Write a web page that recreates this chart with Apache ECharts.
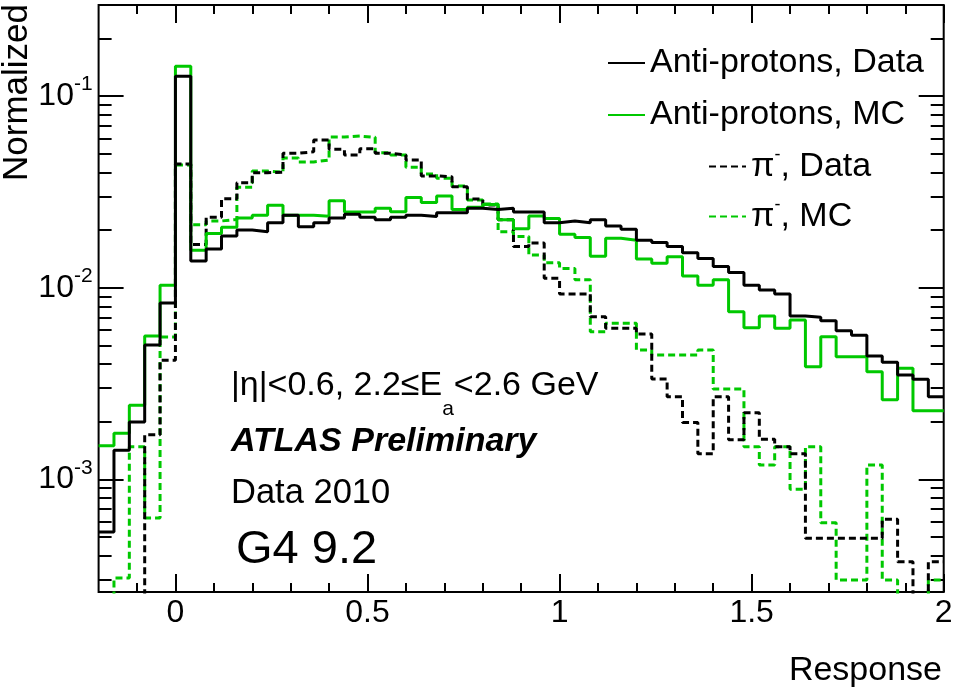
<!DOCTYPE html>
<html>
<head>
<meta charset="utf-8">
<title>Response</title>
<script src="https://cdn.jsdelivr.net/npm/echarts@6.0.0/dist/echarts.min.js"></script>
<style>
html, body { margin: 0; padding: 0; background: #ffffff; }
#chart { width: 953px; height: 690px; }
</style>
</head>
<body>
<div id="chart"></div>
<script>
// ---------------- data ----------------
const binLow = -0.2;
const binWidth = 0.04;
const BELOW = 1e-4; // empty bins: below the visible axis range

const antiProtonData = [
  5.32e-4, 1.42e-3, 1.99e-3, 5.02e-3, 8.32e-3,
  0.127,   1.38e-2, 1.59e-2, 1.86e-2, 2.00e-2,
  1.96e-2, 2.18e-2, 2.39e-2, 2.08e-2, 2.18e-2,
  2.31e-2, 2.42e-2, 2.33e-2, 2.26e-2, 2.33e-2,
  2.39e-2, 2.35e-2, 2.46e-2, 2.46e-2, 2.60e-2,
  2.56e-2, 2.60e-2, 2.48e-2, 2.48e-2, 2.18e-2,
  2.23e-2, 2.18e-2, 2.26e-2, 2.10e-2, 2.02e-2,
  1.77e-2, 1.72e-2, 1.64e-2, 1.52e-2, 1.42e-2,
  1.29e-2, 1.20e-2, 1.03e-2, 9.73e-3, 9.27e-3,
  7.12e-3, 7.01e-3, 6.73e-3, 5.97e-3, 5.65e-3,
  4.40e-3, 4.08e-3, 3.50e-3, 3.33e-3, 2.70e-3
];
const antiProtonMC = [
  1.50e-3, 1.74e-3, 2.44e-3, 5.60e-3, 1.03e-2,
  0.143,   1.57e-2, 1.92e-2, 2.07e-2, 2.31e-2,
  2.39e-2, 2.69e-2, 2.39e-2, 2.39e-2, 2.36e-2,
  2.84e-2, 2.48e-2, 2.48e-2, 2.60e-2, 2.49e-2,
  2.96e-2, 2.78e-2, 3.01e-2, 2.56e-2, 2.63e-2,
  2.72e-2, 2.26e-2, 2.03e-2, 2.37e-2, 2.30e-2,
  1.90e-2, 1.83e-2, 1.46e-2, 1.81e-2, 1.77e-2,
  1.41e-2, 1.34e-2, 1.45e-2, 1.15e-2, 1.03e-2,
  1.10e-2, 7.49e-3, 6.18e-3, 7.12e-3, 6.14e-3,
  6.78e-3, 3.87e-3, 5.55e-3, 4.37e-3, 4.37e-3,
  3.65e-3, 2.60e-3, 3.80e-3, 2.28e-3, 2.28e-3
];
const pionData = [
  BELOW,   BELOW,   BELOW,   1.71e-3, 4.19e-3,
  4.42e-2, 1.68e-2, 2.33e-2, 2.91e-2, 3.53e-2,
  3.98e-2, 4.01e-2, 5.03e-2, 5.12e-2, 5.89e-2,
  5.27e-2, 4.92e-2, 5.31e-2, 5.03e-2, 4.92e-2,
  4.64e-2, 3.83e-2, 3.79e-2, 3.36e-2, 2.90e-2,
  2.70e-2, 2.26e-2, 1.64e-2, 1.71e-2, 1.12e-2,
  9.27e-3, 9.27e-3, 7.06e-3, 6.14e-3, 6.14e-3,
  5.73e-3, 3.34e-3, 2.70e-3, 1.98e-3, 1.36e-3,
  2.70e-3, 1.61e-3, 2.23e-3, 1.62e-3, 1.48e-3,
  1.36e-3, 4.93e-4, 4.93e-4, 4.93e-4, 4.93e-4,
  4.93e-4, 6.19e-4, 3.72e-4, BELOW,   3.72e-4
];
const pionMC = [
  BELOW,   3.06e-4, 1.48e-3, 6.29e-4, 5.53e-3,
  4.37e-2, 2.13e-2, 2.23e-2, 2.27e-2, 3.34e-2,
  4.06e-2, 4.01e-2, 4.75e-2, 4.53e-2, 4.64e-2,
  6.11e-2, 6.18e-2, 6.09e-2, 5.06e-2, 4.92e-2,
  4.25e-2, 3.92e-2, 3.72e-2, 3.39e-2, 2.87e-2,
  2.73e-2, 1.96e-2, 1.85e-2, 1.48e-2, 1.35e-2,
  1.26e-2, 1.10e-2, 5.89e-3, 6.52e-3, 6.52e-3,
  4.73e-3, 4.46e-3, 4.46e-3, 4.46e-3, 4.73e-3,
  2.96e-3, 2.96e-3, 1.48e-3, 1.19e-3, 1.48e-3,
  8.88e-4, 1.48e-3, 5.94e-4, 2.99e-4, 2.99e-4,
  1.19e-3, 2.99e-4, BELOW,   BELOW,   2.99e-4
];

const xMin = -0.2, xMax = 2;
const yMin = 2.586e-4, yMax = 0.2985;
const xTickLabels = [0, 0.5, 1, 1.5, 2];
const xMinorTicks = [-0.1, 0.1, 0.2, 0.3, 0.4, 0.6, 0.7, 0.8, 0.9, 1.1, 1.2, 1.3, 1.4, 1.6, 1.7, 1.8, 1.9];
const yMinorTicks = [3e-4, 4e-4, 5e-4, 6e-4, 7e-4, 8e-4, 9e-4,
                     2e-3, 3e-3, 4e-3, 5e-3, 6e-3, 7e-3, 8e-3, 9e-3,
                     2e-2, 3e-2, 4e-2, 5e-2, 6e-2, 7e-2, 8e-2, 9e-2, 2e-1];

const legendTop = ['Anti-protons, Data', 'Anti-protons, MC'];
const legendBottom = ['π-, Data', 'π-, MC'];

// ---------------- build ----------------
const FONT = '"Liberation Sans", Arial, Helvetica, sans-serif';
const GREEN = '#00c800';

function histo(values) {
  const pts = values.map((v, i) => [+(binLow + i * binWidth).toFixed(2), v]);
  pts.push([+(binLow + values.length * binWidth).toFixed(2), values[values.length - 1]]);
  return pts;
}

const tickLine = { color: '#000', width: 2 };

function xAxisDef(position, ticks, len, withLabels) {
  return {
    type: 'value', position: position, min: xMin, max: xMax,
    axisLine: { show: false, onZero: false }, splitLine: { show: false },
    axisTick: { show: true, inside: true, length: len, customValues: ticks, lineStyle: tickLine },
    axisLabel: withLabels ? {
      show: true, customValues: xTickLabels, margin: 5, fontSize: 32, fontFamily: FONT, color: '#000',
      formatter: v => String(v)
    } : { show: false }
  };
}

function yLogAxis(position, withLabels) {
  return {
    type: 'log', logBase: 10, position: position, min: yMin, max: yMax,
    axisLine: { show: false, onZero: false }, splitLine: { show: false },
    axisTick: { show: true, inside: true, length: 25, lineStyle: tickLine },
    axisLabel: withLabels ? {
      show: true, margin: 6, showMinLabel: false, showMaxLabel: false,
      fontFamily: FONT, color: '#000', fontSize: 32,
      formatter: function (v) {
        const e = Math.log10(v);
        const r = Math.round(e);
        if (Math.abs(e - r) > 1e-6) return '';
        return '{b|10}{s|' + r + '}';
      },
      rich: {
        b: { fontSize: 32, fontFamily: FONT, color: '#000', lineHeight: 44 },
        s: { fontSize: 21, fontFamily: FONT, color: '#000', lineHeight: 21, verticalAlign: 'top' }
      }
    } : { show: false }
  };
}

function yMinorAxis(position) {
  return {
    type: 'value', position: position, min: Math.log10(yMin), max: Math.log10(yMax),
    axisLine: { show: false, onZero: false }, splitLine: { show: false },
    axisTick: { show: true, inside: true, length: 13, customValues: yMinorTicks.map(v => Math.log10(v)), lineStyle: tickLine },
    axisLabel: { show: false }
  };
}

function lineSeries(name, values, color, dashed, z) {
  return {
    name: name, type: 'line', step: 'end', data: histo(values),
    xAxisIndex: 0, yAxisIndex: 0,
    symbol: 'none', showSymbol: false, clip: true, z: z,
    lineStyle: { color: color, width: 3, type: dashed ? [7, 4] : 'solid' },
    itemStyle: { color: color },
    emphasis: { disabled: true }
  };
}

const legendText = { fontSize: 34, fontFamily: FONT, color: '#000', lineHeight: 40 };

const option = {
  animation: false,
  backgroundColor: '#ffffff',
  grid: {
    left: 98.6, right: 9.3, top: 5, bottom: 98,
    show: true, borderColor: '#000', borderWidth: 2, backgroundColor: 'transparent',
    containLabel: false, outerBoundsMode: 'none'
  },
  xAxis: [
    xAxisDef('bottom', xTickLabels, 18, true),
    xAxisDef('bottom', xMinorTicks, 9, false),
    xAxisDef('top', xTickLabels, 18, false),
    xAxisDef('top', xMinorTicks, 9, false)
  ],
  yAxis: [
    yLogAxis('left', true),
    yMinorAxis('left'),
    yLogAxis('right', false),
    yMinorAxis('right')
  ],
  legend: [
    {
      data: legendTop, orient: 'vertical', left: 607, top: 43, padding: 0,
      itemWidth: 37, itemHeight: 2, itemGap: 12, selectedMode: false,
      itemStyle: { opacity: 0 },
      textStyle: legendText
    },
    {
      data: legendBottom, orient: 'vertical', left: 708, top: 146.5, padding: 0,
      itemWidth: 37, itemHeight: 2, itemGap: 10, selectedMode: false,
      itemStyle: { opacity: 0 },
      textStyle: Object.assign({}, legendText, {
        rich: {
          p: { fontSize: 34, fontFamily: FONT, color: '#000', lineHeight: 40 },
          s: { fontSize: 18, fontFamily: FONT, color: '#000', lineHeight: 18, verticalAlign: 'top' },
          t: { fontSize: 34, fontFamily: FONT, color: '#000', lineHeight: 40 }
        }
      }),
      formatter: function (name) {
        const rest = name.slice(2);
        return '{p|π}{s|-}{t|' + rest + '}';
      }
    }
  ],
  graphic: [
    { type: 'text', x: 17, y: 4, rotation: Math.PI / 2, silent: true,
      style: { text: 'Normalized', fontSize: 35, fontFamily: FONT, fill: '#000', align: 'right', verticalAlign: 'middle' } },
    { type: 'text', x: 942, y: 671, silent: true,
      style: { text: 'Response', fontSize: 34, fontFamily: FONT, fill: '#000', align: 'right', verticalAlign: 'middle' } },
    { type: 'text', x: 231, y: 386, silent: true,
      style: { text: '|η|<0.6, 2.2≤E{sub|a}<2.6 GeV', fontSize: 34, fontFamily: FONT, fill: '#000',
        lineHeight: 68, align: 'left', verticalAlign: 'middle',
        rich: { sub: { fontSize: 21, fontFamily: FONT, fill: '#000', lineHeight: 20, verticalAlign: 'bottom' } } } },
    { type: 'text', x: 231, y: 442, silent: true,
      style: { text: 'ATLAS Preliminary', fontSize: 34, fontFamily: FONT, fontWeight: 'bold', fontStyle: 'italic',
        fill: '#000', align: 'left', verticalAlign: 'middle' } },
    { type: 'text', x: 231, y: 493, silent: true,
      style: { text: 'Data 2010', fontSize: 34.5, fontFamily: FONT, fill: '#000', align: 'left', verticalAlign: 'middle' } },
    { type: 'text', x: 236, y: 550, silent: true,
      style: { text: 'G4 9.2', fontSize: 47, fontFamily: FONT, fill: '#000', align: 'left', verticalAlign: 'middle' } }
  ],
  series: [
    lineSeries(legendTop[0], antiProtonData, '#000000', false, 5),
    lineSeries(legendTop[1], antiProtonMC, GREEN, false, 4),
    lineSeries(legendBottom[0], pionData, '#000000', true, 3),
    lineSeries(legendBottom[1], pionMC, GREEN, true, 2)
  ]
};

const chart = echarts.init(document.getElementById('chart'), null, { renderer: 'canvas' });
chart.setOption(option);
</script>
</body>
</html>
